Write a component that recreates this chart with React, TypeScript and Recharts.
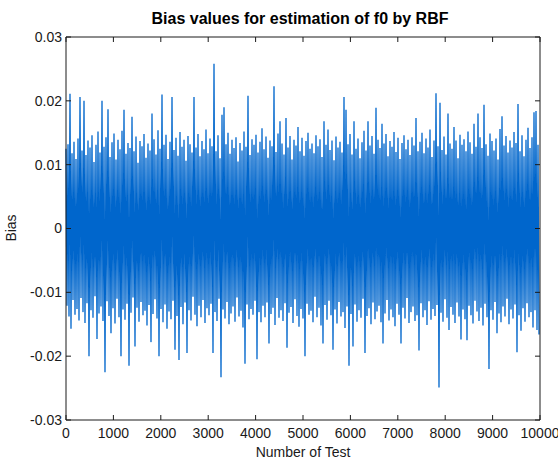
import { Line, LineChart, XAxis, YAxis } from "recharts";

document.body.style.margin = "0";
document.body.style.overflow = "hidden";

const TITLE = "Bias values for estimation of f0 by RBF";
const X_LABEL = "Number of Test";
const Y_LABEL = "Bias";

const xTicks = [0, 1000, 2000, 3000, 4000, 5000, 6000, 7000, 8000, 9000, 10000];
const yTicks = [-0.03, -0.02, -0.01, 0, 0.01, 0.02, 0.03];
const TEST_COUNT = 10000;

// upper envelope of the bias trace, one value per ~42 tests
const upper = [
  0.0125, 0.0132, 0.0211, 0.0118, 0.0136, 0.0109, 0.0141, 0.0206, 0.0122, 0.02,
  0.0115, 0.0138, 0.0127, 0.0146, 0.0104, 0.0131, 0.0152, 0.0119, 0.02, 0.0128,
  0.0143, 0.0187, 0.0112, 0.0135, 0.0149, 0.0108, 0.0139, 0.0124, 0.0153, 0.0186,
  0.0117, 0.0134, 0.0126, 0.0175, 0.0121, 0.0144, 0.0103, 0.0137, 0.0129, 0.0148,
  0.0111, 0.0133, 0.0122, 0.018, 0.014, 0.0116, 0.0154, 0.0125, 0.021, 0.0131,
  0.0147, 0.0109, 0.0136, 0.0206, 0.0123, 0.0142, 0.0114, 0.0151, 0.0128, 0.0139,
  0.0106, 0.0145, 0.0132, 0.0119, 0.0206, 0.0127, 0.0148, 0.0113, 0.0137, 0.0124,
  0.0155, 0.0118, 0.0141, 0.0129, 0.0258, 0.0121, 0.0146, 0.011, 0.0178, 0.019,
  0.0132, 0.015, 0.0117, 0.0139, 0.0126, 0.0143, 0.0105, 0.0134, 0.0122, 0.0152,
  0.0128, 0.0208, 0.0115, 0.014, 0.0131, 0.0147, 0.0119, 0.0136, 0.0157, 0.0124,
  0.0144, 0.0111, 0.0138, 0.0129, 0.0223, 0.012, 0.0149, 0.0168, 0.0133, 0.0116,
  0.0173, 0.0127, 0.0145, 0.0108, 0.0139, 0.013, 0.0159, 0.0121, 0.0142, 0.0114,
  0.0137, 0.015, 0.0125, 0.0133, 0.0118, 0.0146, 0.0129, 0.014, 0.0112, 0.0168,
  0.0131, 0.0155, 0.0123, 0.0138, 0.0107, 0.0144, 0.0127, 0.0136, 0.0119, 0.0206,
  0.0186, 0.0132, 0.0148, 0.0116, 0.0168, 0.0125, 0.0141, 0.011, 0.0135, 0.0153,
  0.0122, 0.0168, 0.013, 0.0145, 0.0117, 0.0189, 0.0139, 0.0126, 0.0164, 0.0133,
  0.0148, 0.0113, 0.0137, 0.0128, 0.0151, 0.012, 0.0142, 0.0109, 0.0134, 0.0146,
  0.0124, 0.0139, 0.0115, 0.0143, 0.013, 0.0173, 0.0121, 0.0136, 0.015, 0.0118,
  0.0141, 0.0127, 0.0155, 0.0112, 0.0138, 0.0212, 0.0129, 0.0197, 0.0123, 0.0144,
  0.0116, 0.018, 0.0133, 0.0125, 0.0159, 0.0138, 0.011, 0.0147, 0.0131, 0.014,
  0.0121, 0.0152, 0.0135, 0.0117, 0.0164, 0.0128, 0.018, 0.0143, 0.0126, 0.0194,
  0.0132, 0.0114, 0.0149, 0.0137, 0.0122, 0.0141, 0.0108, 0.0156, 0.0176, 0.013,
  0.0145, 0.0119, 0.0138, 0.0127, 0.0151, 0.0134, 0.0195, 0.0121, 0.0146, 0.0113,
  0.0139, 0.0158, 0.0126, 0.0143, 0.0182, 0.0184, 0.0131,
];

// lower envelope, same spacing
const lower = [
  -0.0121, -0.0138, -0.0157, -0.0112, -0.0135, -0.0126, -0.0144, -0.0109, -0.0131, -0.0148,
  -0.0117, -0.02, -0.0128, -0.014, -0.0106, -0.0173, -0.0133, -0.0122, -0.0145, -0.0225,
  -0.0114, -0.0137, -0.0164, -0.0125, -0.0149, -0.011, -0.0139, -0.02, -0.0127, -0.0143,
  -0.0118, -0.0215, -0.0132, -0.0108, -0.0185, -0.0124, -0.0146, -0.0115, -0.0136, -0.0129,
  -0.0152, -0.012, -0.0178, -0.0134, -0.0111, -0.0141, -0.02, -0.0126, -0.0147, -0.0119,
  -0.0157, -0.013, -0.0142, -0.0113, -0.019, -0.0137, -0.0206, -0.0123, -0.015, -0.0116,
  -0.0195, -0.0128, -0.0144, -0.0107, -0.0135, -0.0153, -0.0121, -0.0139, -0.0112, -0.0148,
  -0.0125, -0.0136, -0.0118, -0.0195, -0.0131, -0.0145, -0.011, -0.0233, -0.0127, -0.0141,
  -0.0115, -0.015, -0.0133, -0.0122, -0.0146, -0.0108, -0.0138, -0.0129, -0.0155, -0.0212,
  -0.0119, -0.0142, -0.0126, -0.0135, -0.0113, -0.0205, -0.0131, -0.0147, -0.0121, -0.0139,
  -0.0116, -0.018, -0.0134, -0.0124, -0.0151, -0.0109, -0.014, -0.0128, -0.0145, -0.0117,
  -0.0187, -0.0132, -0.0123, -0.0148, -0.0111, -0.0137, -0.0154, -0.0126, -0.0141, -0.02,
  -0.0118, -0.0135, -0.0129, -0.0147, -0.0107, -0.0139, -0.0124, -0.0152, -0.018, -0.012,
  -0.0143, -0.0113, -0.0136, -0.019, -0.0127, -0.0149, -0.0115, -0.0138, -0.0131, -0.0156,
  -0.0122, -0.0215, -0.0134, -0.0185, -0.0119, -0.0146, -0.0128, -0.014, -0.011, -0.0195,
  -0.0137, -0.0125, -0.015, -0.0116, -0.0142, -0.013, -0.0121, -0.0147, -0.018, -0.0133,
  -0.0112, -0.0144, -0.0127, -0.0139, -0.0153, -0.0118, -0.0135, -0.018, -0.0124, -0.0141,
  -0.0109, -0.0148, -0.0131, -0.0122, -0.0145, -0.0136, -0.0191, -0.0117, -0.0139, -0.0128,
  -0.0151, -0.0114, -0.0143, -0.0126, -0.0137, -0.012, -0.0249, -0.0132, -0.0146, -0.0111,
  -0.014, -0.0159, -0.0123, -0.0135, -0.0148, -0.0116, -0.0138, -0.0174, -0.0127, -0.0142,
  -0.0175, -0.0121, -0.0136, -0.0149, -0.0113, -0.013, -0.0145, -0.0124, -0.0152, -0.0118,
  -0.0139, -0.022, -0.0128, -0.0143, -0.0115, -0.0164, -0.0133, -0.0147, -0.0122, -0.0138,
  -0.011, -0.015, -0.0127, -0.0141, -0.0119, -0.0194, -0.0136, -0.016, -0.0125, -0.0146,
  -0.0117, -0.0139, -0.0131, -0.0155, -0.0128, -0.0159, -0.0166,
];

const step = TEST_COUNT / upper.length;
const data = upper.flatMap((hi, i) => [
  { test: i * step, bias: hi },
  { test: (i + 0.5) * step, bias: lower[i] },
]);

const font = "'Liberation Sans', Arial, sans-serif";
const ink = "#1a1a1a";
const TICK_LEN = 5;
const X_GAP = 8;
const Y_GAP = 4;

// MATLAB-style ticks point into the plot box
function BottomTick({ x, y, payload }: any) {
  const axisY = y - X_GAP;
  return (
    <g>
      <line x1={x} x2={x} y1={axisY} y2={axisY - TICK_LEN} stroke={ink} />
      <text x={x} y={y} dy="0.71em" textAnchor="middle" fontSize={14} fontFamily={font} fill={ink}>
        {payload.value}
      </text>
    </g>
  );
}

function LeftTick({ x, y, payload }: any) {
  const axisX = x + Y_GAP;
  return (
    <g>
      <line x1={axisX} x2={axisX + TICK_LEN} y1={y} y2={y} stroke={ink} />
      <text x={x} y={y} dy="0.355em" textAnchor="end" fontSize={14} fontFamily={font} fill={ink}>
        {payload.value}
      </text>
    </g>
  );
}

function TopTick({ x, y }: any) {
  return <line x1={x} x2={x} y1={y} y2={y + TICK_LEN} stroke={ink} />;
}

function RightTick({ x, y }: any) {
  return <line x1={x} x2={x - TICK_LEN} y1={y} y2={y} stroke={ink} />;
}

export default function App() {
  return (
    <div style={{ position: "relative", width: 558, height: 462, background: "#fff" }}>
      <LineChart width={558} height={462} data={data} margin={{ top: 36, right: 17, bottom: 0, left: 0 }}>
        <XAxis
          dataKey="test"
          type="number"
          domain={[0, TEST_COUNT]}
          ticks={xTicks}
          height={42}
          stroke={ink}
          tickLine={false}
          tickSize={0}
          tickMargin={X_GAP}
          tick={<BottomTick />}
          interval={0}
          label={{ value: X_LABEL, position: "insideBottom", offset: 5, fill: ink, fontSize: 14, fontFamily: font }}
        />
        <XAxis
          xAxisId="top"
          dataKey="test"
          orientation="top"
          type="number"
          domain={[0, TEST_COUNT]}
          ticks={xTicks}
          height={1}
          stroke={ink}
          tickLine={false}
          tickSize={0}
          tickMargin={0}
          tick={<TopTick />}
          interval={0}
        />
        <YAxis
          type="number"
          domain={[-0.03, 0.03]}
          ticks={yTicks}
          width={66}
          stroke={ink}
          tickLine={false}
          tickSize={0}
          tickMargin={Y_GAP}
          tick={<LeftTick />}
          interval={0}
        />
        <YAxis
          yAxisId="right"
          orientation="right"
          type="number"
          domain={[-0.03, 0.03]}
          ticks={yTicks}
          width={1}
          stroke={ink}
          tickLine={false}
          tickSize={0}
          tickMargin={0}
          tick={<RightTick />}
          interval={0}
        />
        <Line
          type="linear"
          dataKey="bias"
          stroke="#0066cc"
          strokeWidth={1.3}
          dot={false}
          activeDot={false}
          isAnimationActive={false}
        />
        <Line
          xAxisId="top"
          yAxisId="right"
          type="linear"
          dataKey="bias"
          stroke="none"
          dot={false}
          activeDot={false}
          isAnimationActive={false}
        />
      </LineChart>
      <div
        style={{
          position: "absolute",
          left: 63,
          width: 474,
          top: 11,
          textAlign: "center",
          fontFamily: font,
          fontWeight: "bold",
          fontSize: 16,
          lineHeight: "16px",
          color: "#000",
        }}
      >
        {TITLE}
      </div>
      <div
        style={{
          position: "absolute",
          left: 11,
          top: 228,
          transform: "translate(-50%, -50%) rotate(-90deg)",
          fontFamily: font,
          fontSize: 14,
          lineHeight: "14px",
          color: ink,
          whiteSpace: "nowrap",
        }}
      >
        {Y_LABEL}
      </div>
    </div>
  );
}
